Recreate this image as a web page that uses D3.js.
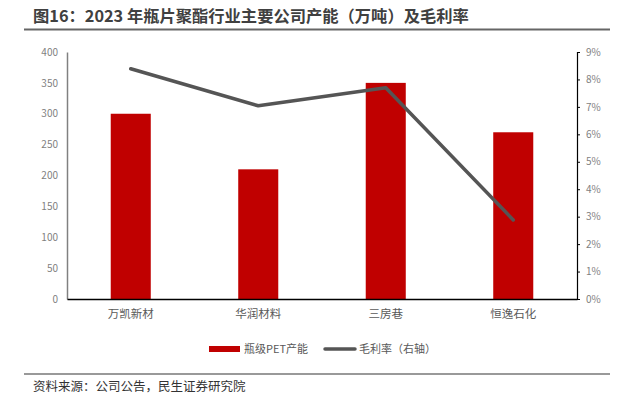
<!DOCTYPE html>
<html>
<head>
<meta charset="utf-8">
<script src="https://cdn.jsdelivr.net/npm/d3@7"></script>
<style>
  body { margin: 0; background: #fff; }
  text { font-family: 'Noto Sans CJK SC', 'Noto Sans', sans-serif; }
</style>
</head>
<body>
<div id="chart"></div>
<script>
// Data
const companies = ['万凯新材', '华润材料', '三房巷', '恒逸石化']
const capacity = [300, 210, 350, 270]
const grossMargin = [8.39, 7.04, 7.7, 2.88]
const leftTicks = [0, 50, 100, 150, 200, 250, 300, 350, 400]
const rightTicks = [0, 1, 2, 3, 4, 5, 6, 7, 8, 9]

const width = 632
const height = 398
const margin = { top: 52, left: 67, right: 55, bottom: 99 }
const plotW = width - margin.left - margin.right
const plotH = height - margin.top - margin.bottom

const svg = d3
  .select('#chart')
  .append('svg')
  .attr('width', width)
  .attr('height', height)

// Title and rules
svg
  .append('text')
  .attr('x', 33)
  .attr('y', 22)
  .attr('font-size', 16.3)
  .attr('font-weight', 'bold')
  .attr('fill', '#404040')
  .text('图16：2023 年瓶片聚酯行业主要公司产能（万吨）及毛利率')

svg
  .append('line')
  .attr('x1', 24)
  .attr('x2', 610)
  .attr('y1', 29.5)
  .attr('y2', 29.5)
  .attr('stroke', '#666')
  .attr('stroke-width', 2)

svg
  .append('line')
  .attr('x1', 24)
  .attr('x2', 610)
  .attr('y1', 374)
  .attr('y2', 374)
  .attr('stroke', '#777')
  .attr('stroke-width', 1.5)

svg
  .append('text')
  .attr('x', 33)
  .attr('y', 391)
  .attr('font-size', 12.5)
  .attr('fill', '#333')
  .text('资料来源：公司公告，民生证券研究院')

const g = svg
  .append('g')
  .attr('transform', 'translate(' + margin.left + ',' + margin.top + ')')

// Scales
const xScale = d3.scaleBand().domain(companies).range([0, plotW]).paddingInner(0.686).paddingOuter(0.343)
const xPoint = d3.scaleBand().domain(companies).range([0, plotW])
const yLeft = d3.scaleLinear().domain([0, 400]).range([plotH, 0])
const yRight = d3.scaleLinear().domain([0, 9]).range([plotH, 0])

// Bars
g.selectAll('.bar')
  .data(capacity)
  .enter()
  .append('rect')
  .attr('class', 'bar')
  .attr('x', (d, i) => xScale(companies[i]))
  .attr('width', xScale.bandwidth())
  .attr('y', d => yLeft(d))
  .attr('height', d => plotH - yLeft(d))
  .attr('fill', '#c00000')

// Left axis
const yAxisL = d3.axisLeft(yLeft).tickValues(leftTicks).tickSize(0).tickPadding(9)
const la = g.append('g').call(yAxisL)
la.select('.domain').attr('stroke', '#808080').attr('stroke-width', 1.5)
la.selectAll('text').attr('font-size', 10).attr('fill', '#7f7f7f')

// Right axis
const yAxisR = d3
  .axisRight(yRight)
  .tickValues(rightTicks)
  .tickSize(3)
  .tickSizeOuter(3)
  .tickPadding(6)
  .tickFormat(d => d + '%')
const ra = g.append('g').attr('transform', 'translate(' + plotW + ',0)').call(yAxisR)
ra.select('.domain').attr('stroke', '#000').attr('stroke-width', 1.2)
ra.selectAll('line').attr('stroke', '#000')
ra.selectAll('text').attr('font-size', 10).attr('fill', '#7f7f7f')

// Bottom axis
const xAxis = d3.axisBottom(xPoint).tickSize(0).tickPadding(11)
const xa = g.append('g').attr('transform', 'translate(0,' + plotH + ')').call(xAxis)
xa.select('.domain').attr('stroke', '#000').attr('stroke-width', 1.5)
xa.selectAll('text').attr('font-size', 11.5).attr('fill', '#595959')

// Margin line
const line = d3
  .line()
  .x((d, i) => xPoint(companies[i]) + xPoint.bandwidth() / 2)
  .y(d => yRight(d))

g.append('path')
  .datum(grossMargin)
  .attr('d', line)
  .attr('fill', 'none')
  .attr('stroke', '#555')
  .attr('stroke-width', 3.5)
  .attr('stroke-linecap', 'round')
  .attr('stroke-linejoin', 'round')

// Legend
const legend = svg.append('g').attr('transform', 'translate(0,349)')
legend
  .append('rect')
  .attr('x', 209)
  .attr('y', -3)
  .attr('width', 31)
  .attr('height', 6)
  .attr('fill', '#c00000')
legend
  .append('text')
  .attr('x', 244)
  .attr('y', 4)
  .attr('font-size', 11)
  .attr('fill', '#595959')
  .text('瓶级PET产能')
legend
  .append('line')
  .attr('x1', 325)
  .attr('x2', 355)
  .attr('y1', 0)
  .attr('y2', 0)
  .attr('stroke', '#555')
  .attr('stroke-width', 3.5)
  .attr('stroke-linecap', 'round')
legend
  .append('text')
  .attr('x', 359)
  .attr('y', 4)
  .attr('font-size', 11)
  .attr('fill', '#595959')
  .text('毛利率（右轴）')
</script>
</body>
</html>
